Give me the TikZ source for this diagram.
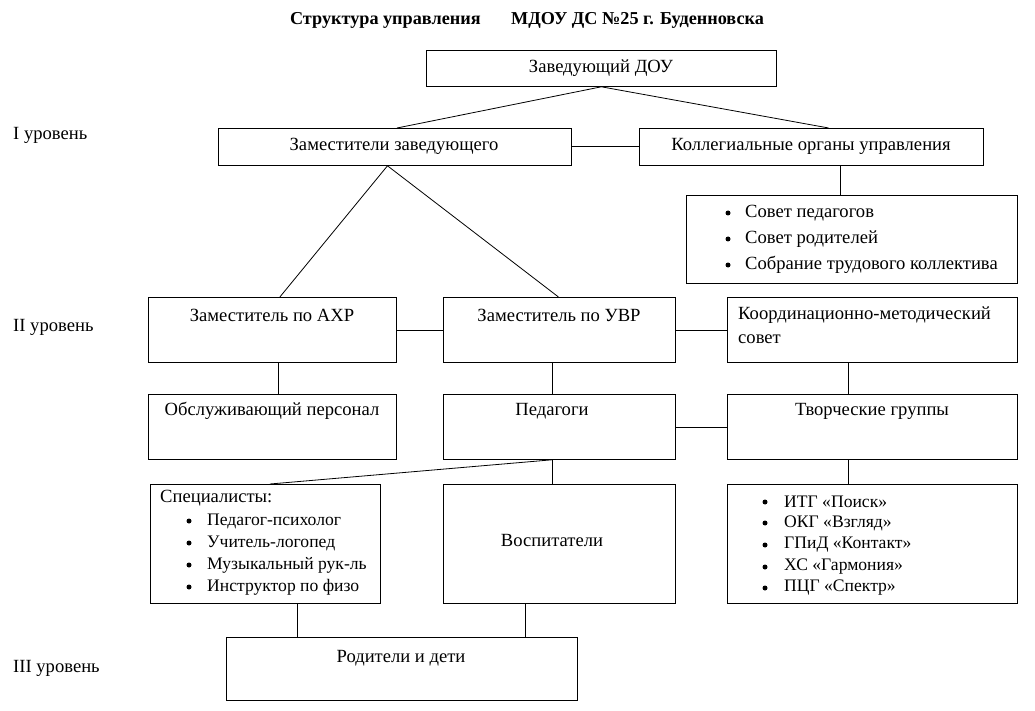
\documentclass[tikz,border=0pt]{standalone}
\usepackage{fontspec}
\setmainfont{Liberation Serif}
\usetikzlibrary{calc}
\tikzset{
  box/.style={draw=black, line width=0.8pt, inner sep=0pt, anchor=north west},
  txt/.style={inner sep=0pt, font=\fontsize{18.6}{21}\selectfont},
  lft/.style={txt, anchor=west},
  small/.style={lft, font=\fontsize{17.6}{20}\selectfont},
  conn/.style={draw=black, line width=0.8pt},
  bul/.style={circle, fill=black, inner sep=0pt, minimum size=5pt},
}
\begin{document}
\begin{tikzpicture}[x=1pt,y=-1pt]
\useasboundingbox (0,0) rectangle (1035,711);
% title
\node[txt, font=\fontsize{18.2}{21}\selectfont\bfseries] (title) at (527,20) {Структура управления\hspace{26pt} МДОУ ДС №25 г. Буденновска};
% level labels
\node[lft] (l1) at (13,135) {I уровень};
\node[lft] (l2) at (13,327) {II уровень};
\node[lft] (l3) at (13,668) {III уровень};
% boxes
\node[box, minimum width=350pt, minimum height=36pt] (zav) at (426,50) {};
\node[box, minimum width=353pt, minimum height=37pt] (zam) at (218,128) {};
\node[box, minimum width=344pt, minimum height=37pt] (kol) at (639,128) {};
\node[box, minimum width=331pt, minimum height=88pt] (sov) at (686,195) {};
\node[box, minimum width=248pt, minimum height=65pt] (axr) at (148,297) {};
\node[box, minimum width=232pt, minimum height=65pt] (uvr) at (443,297) {};
\node[box, minimum width=290pt, minimum height=65pt] (kms) at (727,297) {};
\node[box, minimum width=248pt, minimum height=65pt] (obs) at (148,394) {};
\node[box, minimum width=232pt, minimum height=65pt] (ped) at (443,394) {};
\node[box, minimum width=290pt, minimum height=65pt] (tvo) at (727,394) {};
\node[box, minimum width=230pt, minimum height=119pt] (spe) at (150,484) {};
\node[box, minimum width=232pt, minimum height=119pt] (vos) at (443,484) {};
\node[box, minimum width=290pt, minimum height=119pt] (grp) at (727,484) {};
\node[box, minimum width=351pt, minimum height=63pt] (rod) at (226,637) {};
% texts
\node[txt] (tzav) at (601,68) {Заведующий ДОУ};
\node[txt] (tzam) at (394,146) {Заместители заведующего};
\node[txt] (tkol) at (811,146) {Коллегиальные органы управления};
\node[bul] (bs1) at (728,213) {};
\node[bul] (bs2) at (728,239) {};
\node[bul] (bs3) at (728,265) {};
\node[lft] (ts1) at (745,213) {Совет педагогов};
\node[lft] (ts2) at (745,239) {Совет родителей};
\node[lft] (ts3) at (745,265) {Собрание трудового коллектива};
\node[txt] (taxr) at (272,315) {Заместитель по АХР};
\node[txt] (tuvr) at (559,315) {Заместитель по УВР};
\node[lft] (tkms1) at (738,315) {Координационно-методический};
\node[lft] (tkms2) at (738,339) {совет};
\node[txt] (tobs) at (272,411) {Обслуживающий персонал};
\node[txt] (tped) at (552,411) {Педагоги};
\node[txt] (ttvo) at (872,411) {Творческие группы};
\node[lft] (tspe) at (160,498) {Специалисты:};
\node[bul] (bp1) at (189,521) {};
\node[bul] (bp2) at (189,543) {};
\node[bul] (bp3) at (189,565) {};
\node[bul] (bp4) at (189,587) {};
\node[small] (tp1) at (207,521) {Педагог-психолог};
\node[small] (tp2) at (207,543) {Учитель-логопед};
\node[small] (tp3) at (207,565) {Музыкальный рук-ль};
\node[small] (tp4) at (207,587) {Инструктор по физо};
\node[txt] (tvos) at (552,540) {Воспитатели};
\node[bul] (bg1) at (765,502) {};
\node[bul] (bg2) at (765,523) {};
\node[bul] (bg3) at (765,545) {};
\node[bul] (bg4) at (765,567) {};
\node[bul] (bg5) at (765,588) {};
\node[small] (tg1) at (784,502) {ИТГ «Поиск»};
\node[small] (tg2) at (784,523) {ОКГ «Взгляд»};
\node[small] (tg3) at (784,545) {ГПиД «Контакт»};
\node[small] (tg4) at (784,567) {ХС «Гармония»};
\node[small] (tg5) at (784,588) {ПЦГ «Спектр»};
\node[txt] (trod) at (401,658) {Родители и дети};
% connectors
\draw[conn] (zav.south) -- ($(zam.north west)!0.506!(zam.north east)$);
\draw[conn] (zav.south) -- ($(kol.north west)!0.55!(kol.north east)$);
\draw[conn] (zam.east) -- (kol.west);
\draw[conn] ($(kol.south west)!0.585!(kol.south east)$) coordinate (k1) -- (k1 |- sov.north);
\draw[conn] ($(zam.south west)!0.479!(zam.south east)$) coordinate (z1) -- ($(axr.north west)!0.53!(axr.north east)$);
\draw[conn] (z1) -- ($(uvr.north west)!0.496!(uvr.north east)$);
\draw[conn] (axr.east) -- (uvr.west);
\draw[conn] (uvr.east) -- (kms.west);
\draw[conn] ($(axr.south west)+(130,0)$) coordinate (a1) -- (a1 |- obs.north);
\draw[conn] ($(uvr.south west)+(109,0)$) coordinate (u1) -- (u1 |- ped.north);
\draw[conn] ($(kms.south west)+(121,0)$) coordinate (m1) -- (m1 |- tvo.north);
\draw[conn] (ped.east) -- (tvo.west);
\draw[conn] ($(ped.south west)+(109,0)$) coordinate (p1) -- ($(spe.north west)+(120,0)$);
\draw[conn] (p1) -- (p1 |- vos.north);
\draw[conn] ($(tvo.south west)+(121,0)$) coordinate (t1) -- (t1 |- grp.north);
\draw[conn] ($(spe.south west)+(147,0)$) coordinate (s1) -- (s1 |- rod.north);
\draw[conn] ($(vos.south west)+(82,0)$) coordinate (v1) -- (v1 |- rod.north);
\end{tikzpicture}
\end{document}
